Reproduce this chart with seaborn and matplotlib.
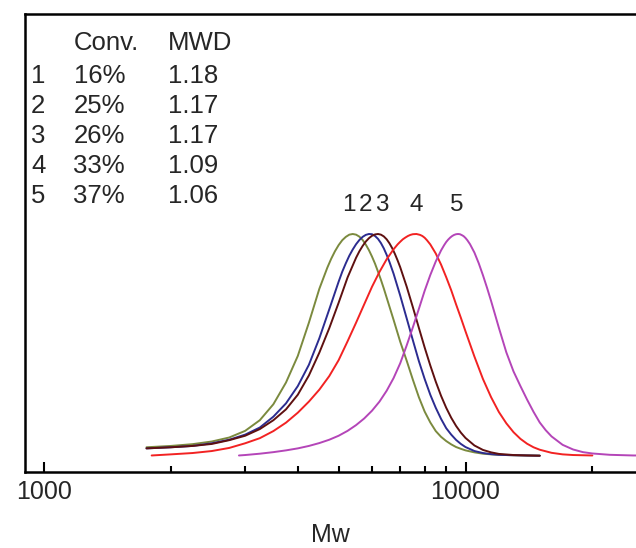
import matplotlib
matplotlib.use("Agg")
import matplotlib.pyplot as plt
from matplotlib.ticker import FixedLocator, FuncFormatter, NullFormatter
import pandas as pd
import seaborn as sns

# GPC traces of samples 1-5 (normalised RI signal vs. molecular weight)
samples = ["1", "2", "3", "4", "5"]
conversion = ["16%", "25%", "26%", "33%", "37%"]
mwd = ["1.18", "1.17", "1.17", "1.09", "1.06"]

mw_1 = [1750, 2000, 2250, 2500, 2750, 3000, 3250, 3500, 3750, 4000,
        4250, 4500, 4700, 4800, 4900, 5000, 5100, 5200, 5300, 5400,
        5500, 5600, 5700, 5800, 5900, 6000, 6100, 6200, 6300, 6400,
        6500, 6750, 7000, 7250, 7500, 7750, 8000, 8250, 8500, 8750,
        9000, 9250, 9500, 9750, 10000, 10500, 11000, 11500, 12000, 13000,
        14000, 15000]
int_1 = [0.038, 0.044, 0.052, 0.064, 0.082, 0.112, 0.160, 0.232, 0.330, 0.450,
         0.600, 0.753, 0.848, 0.888, 0.922, 0.950, 0.972, 0.987, 0.997, 1.000,
         0.997, 0.988, 0.973, 0.952, 0.927, 0.898, 0.866, 0.830, 0.793, 0.754,
         0.713, 0.613, 0.514, 0.429, 0.343, 0.264, 0.199, 0.150, 0.111, 0.085,
         0.066, 0.051, 0.039, 0.031, 0.024, 0.015, 0.009, 0.006, 0.004, 0.002,
         0.001, 0.000]

mw_2 = [1750, 2000, 2250, 2500, 2750, 3000, 3250, 3500, 3750, 4000,
        4250, 4500, 4750, 5000, 5100, 5200, 5300, 5400, 5500, 5600,
        5700, 5800, 5900, 6000, 6100, 6200, 6300, 6400, 6500, 6600,
        6750, 7000, 7250, 7500, 7750, 8000, 8250, 8500, 8750, 9000,
        9250, 9500, 9750, 10000, 10500, 11000, 11500, 12000, 13000, 14000,
        15000]
int_2 = [0.033, 0.038, 0.044, 0.056, 0.072, 0.095, 0.127, 0.176, 0.236, 0.314,
         0.410, 0.530, 0.660, 0.785, 0.830, 0.868, 0.902, 0.930, 0.954, 0.973,
         0.987, 0.996, 1.000, 0.999, 0.991, 0.978, 0.959, 0.935, 0.906, 0.874,
         0.821, 0.722, 0.620, 0.521, 0.427, 0.346, 0.275, 0.216, 0.166, 0.124,
         0.095, 0.071, 0.053, 0.039, 0.021, 0.012, 0.007, 0.004, 0.002, 0.001,
         0.000]

mw_3 = [1750, 2000, 2250, 2500, 2750, 3000, 3250, 3500, 3750, 4000,
        4250, 4500, 4750, 5000, 5250, 5500, 5600, 5700, 5800, 5900,
        6000, 6100, 6200, 6300, 6400, 6500, 6600, 6700, 6800, 6900,
        7000, 7250, 7500, 7750, 8000, 8250, 8500, 8750, 9000, 9250,
        9500, 9750, 10000, 10500, 11000, 11500, 12000, 13000, 14000, 15000]
int_3 = [0.033, 0.038, 0.044, 0.053, 0.070, 0.090, 0.120, 0.160, 0.209, 0.275,
         0.362, 0.465, 0.575, 0.690, 0.804, 0.893, 0.922, 0.946, 0.966, 0.981,
         0.992, 0.998, 1.000, 0.997, 0.989, 0.976, 0.958, 0.936, 0.910, 0.881,
         0.850, 0.763, 0.670, 0.577, 0.488, 0.407, 0.334, 0.270, 0.216, 0.171,
         0.134, 0.104, 0.080, 0.046, 0.026, 0.015, 0.008, 0.003, 0.001, 0.000]

mw_4 = [1800, 2000, 2250, 2500, 2750, 3000, 3250, 3500, 3750, 4000,
        4250, 4500, 4750, 5000, 5250, 5500, 5750, 6000, 6250, 6500,
        6750, 6900, 7000, 7100, 7200, 7300, 7400, 7500, 7650, 7800,
        7900, 8000, 8100, 8250, 8500, 8750, 9000, 9250, 9500, 9750,
        10000, 10500, 11000, 11500, 12000, 12500, 13000, 13500, 14000, 14500,
        15000, 16000, 17000, 18000, 19000, 20000]
int_4 = [0.001, 0.006, 0.012, 0.021, 0.035, 0.056, 0.079, 0.111, 0.149, 0.194,
         0.244, 0.298, 0.359, 0.431, 0.516, 0.600, 0.683, 0.762, 0.829, 0.886,
         0.931, 0.953, 0.965, 0.976, 0.984, 0.991, 0.996, 0.999, 1.000, 0.996,
         0.991, 0.983, 0.972, 0.953, 0.912, 0.862, 0.805, 0.746, 0.682, 0.622,
         0.561, 0.447, 0.346, 0.264, 0.197, 0.146, 0.106, 0.076, 0.054, 0.038,
         0.027, 0.013, 0.006, 0.003, 0.002, 0.001]

mw_5 = [2900, 3000, 3250, 3500, 3750, 4000, 4250, 4500, 4750, 5000,
        5250, 5500, 5750, 6000, 6250, 6500, 6750, 7000, 7250, 7500,
        7750, 8000, 8250, 8500, 8750, 8900, 9000, 9100, 9200, 9300,
        9400, 9500, 9600, 9700, 9800, 9900, 10000, 10100, 10250, 10500,
        10750, 11000, 11250, 11500, 11750, 12000, 12500, 13000, 13500, 14000,
        14500, 15000, 15500, 16000, 17000, 18000, 19000, 20000, 22000, 25000,
        27000]
int_5 = [0.001, 0.003, 0.009, 0.016, 0.024, 0.033, 0.044, 0.057, 0.072, 0.090,
         0.112, 0.138, 0.168, 0.203, 0.244, 0.293, 0.350, 0.417, 0.497, 0.579,
         0.662, 0.744, 0.815, 0.876, 0.926, 0.950, 0.964, 0.975, 0.984, 0.991,
         0.996, 0.999, 1.000, 0.999, 0.995, 0.990, 0.982, 0.972, 0.954, 0.916,
         0.868, 0.814, 0.757, 0.698, 0.637, 0.577, 0.466, 0.380, 0.314, 0.253,
         0.198, 0.150, 0.115, 0.087, 0.049, 0.028, 0.016, 0.010, 0.004, 0.001,
         0.001]

colors = ["#7b8a3e", "#2c2c90", "#5e1010", "#f22222", "#b445b8"]

frames = []
for s, mw, inten in zip(samples, [mw_1, mw_2, mw_3, mw_4, mw_5],
                        [int_1, int_2, int_3, int_4, int_5]):
    frames.append(pd.DataFrame({"Mw": mw, "intensity": inten, "sample": s}))
df = pd.concat(frames, ignore_index=True)

sns.set_style("white")
plt.rcParams["font.family"] = ["Liberation Sans", "DejaVu Sans"]

W, H = 636, 548
fig = plt.figure(figsize=(W / 100, H / 100), dpi=100)
ax = fig.add_axes([25 / W, 76.3 / H, 611 / W, 457.7 / H])

sns.lineplot(data=df, x="Mw", y="intensity", hue="sample", palette=colors,
             estimator=None, sort=False, legend=False, linewidth=1.4, ax=ax)

ax.set_xscale("log")
ax.set_xlim(901, 25385)
ax.set_ylim(-0.0722, 1.9923)

for side in ("top", "left", "bottom"):
    ax.spines[side].set_visible(True)
    ax.spines[side].set_color("black")
    ax.spines[side].set_linewidth(1.8)
ax.spines["right"].set_visible(False)

ax.xaxis.set_major_locator(FixedLocator([1000, 10000]))
ax.xaxis.set_minor_locator(FixedLocator([2000, 3000, 4000, 5000, 6000, 7000,
                                         8000, 9000, 20000]))
ax.xaxis.set_major_formatter(FuncFormatter(lambda v, p: f"{v:.0f}"))
ax.xaxis.set_minor_formatter(NullFormatter())
ax.tick_params(axis="x", which="major", direction="in", length=7.2, width=1.5,
               color="black", labelsize=18, pad=6, bottom=True, top=False)
ax.tick_params(axis="x", which="minor", direction="in", length=4, width=1.5,
               color="black", bottom=True, top=False)
ax.set_yticks([])
ax.set_ylabel("")
ax.set_xlabel("Mw", fontsize=18, labelpad=14)

# summary table in the upper-left corner
fs = 18.5
def fig_xy(px, py):
    return px / W, 1 - py / H

fig.text(*fig_xy(73.5, 50), "Conv.", fontsize=fs, va="baseline", ha="left")
fig.text(*fig_xy(168, 50), "MWD", fontsize=fs, va="baseline", ha="left")
for i, (s, c, m) in enumerate(zip(samples, conversion, mwd)):
    yb = 83 + 30 * i
    fig.text(*fig_xy(31, yb), s, fontsize=fs, va="baseline", ha="left")
    fig.text(*fig_xy(73.5, yb), c, fontsize=fs, va="baseline", ha="left")
    fig.text(*fig_xy(168, yb), m, fontsize=fs, va="baseline", ha="left")

# sample numbers above the peaks
label_x = [5275, 5775, 6320, 7650, 9520]
for s, lx in zip(samples, label_x):
    ax.text(lx, 1.105, s, fontsize=17.5, ha="center", va="baseline")

fig.savefig("out.png", dpi=100)
